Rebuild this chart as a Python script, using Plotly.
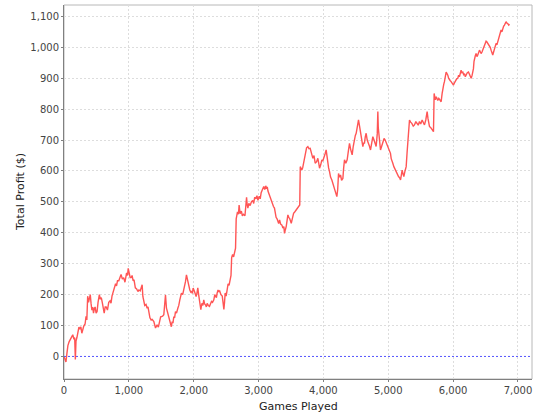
import plotly.graph_objects as go

games = [0, 15, 30, 45, 60, 80, 100, 120, 135, 150, 165, 175, 185, 200, 215, 230, 245, 260, 275, 290,
         305, 325, 340, 352, 365, 378, 392, 405, 418, 430, 443, 455, 468, 480, 495, 510, 525, 545, 560, 575,
         590, 605, 620, 635, 650, 670, 690, 710, 725, 740, 755, 770, 795, 810, 825, 845, 860, 880, 900, 920,
         940, 965, 980, 990, 1005, 1020, 1035, 1050, 1065, 1080, 1100, 1120, 1140, 1155, 1175, 1195, 1205, 1216, 1230, 1245,
         1265, 1282, 1295, 1308, 1325, 1344, 1360, 1385, 1400, 1411, 1425, 1436, 1455, 1472, 1490, 1503, 1520, 1539, 1552, 1565,
         1580, 1601, 1616, 1630, 1642, 1655, 1668, 1680, 1693, 1705, 1719, 1735, 1755, 1770, 1786, 1800, 1811, 1830, 1847, 1860,
         1873, 1888, 1900, 1914, 1930, 1940, 1955, 1966, 1980, 1991, 2012, 2025, 2037, 2050, 2063, 2076, 2089, 2100, 2110, 2120,
         2130, 2142, 2155, 2168, 2181, 2195, 2207, 2225, 2243, 2258, 2274, 2290, 2310, 2325, 2336, 2350, 2361, 2375, 2387, 2400,
         2420, 2440, 2455, 2465, 2475, 2485, 2500, 2515, 2530, 2545, 2560, 2575, 2585, 2600, 2615, 2630, 2645, 2655, 2665, 2675,
         2690, 2700, 2715, 2735, 2750, 2765, 2790, 2800, 2815, 2825, 2835, 2850, 2870, 2890, 2910, 2925, 2940, 2960, 2975, 2990,
         3010, 3025, 3040, 3060, 3080, 3095, 3110, 3120, 3135, 3145, 3160, 3180, 3195, 3215, 3230, 3245, 3258, 3270, 3285, 3300,
         3310, 3324, 3340, 3360, 3375, 3390, 3400, 3413, 3426, 3440, 3452, 3465, 3478, 3490, 3504, 3520, 3540, 3560, 3580, 3600,
         3622, 3635, 3643, 3655, 3667, 3680, 3693, 3710, 3724, 3740, 3760, 3778, 3796, 3815, 3837, 3855, 3873, 3895, 3914, 3928,
         3940, 3958, 3976, 3990, 4007, 4025, 4042, 4055, 4068, 4080, 4094, 4110, 4130, 4150, 4171, 4190, 4207, 4220, 4233, 4248,
         4264, 4280, 4300, 4312, 4325, 4345, 4366, 4385, 4402, 4420, 4443, 4460, 4479, 4492, 4505, 4520, 4541, 4557, 4572, 4590,
         4608, 4620, 4633, 4645, 4659, 4675, 4695, 4710, 4726, 4745, 4762, 4780, 4798, 4813, 4830, 4839, 4846, 4854, 4868, 4880,
         4898, 4916, 4935, 4952, 4970, 4993, 5015, 5034, 5045, 5055, 5070, 5086, 5105, 5122, 5140, 5158, 5175, 5189, 5200, 5214,
         5228, 5240, 5258, 5276, 5290, 5301, 5315, 5327, 5345, 5363, 5385, 5404, 5425, 5445, 5462, 5481, 5500, 5522, 5540, 5558,
         5578, 5590, 5599, 5612, 5635, 5655, 5676, 5690, 5697, 5707, 5725, 5740, 5763, 5779, 5797, 5815, 5830, 5841, 5855, 5866,
         5880, 5892, 5905, 5918, 5930, 5943, 5956, 5969, 5985, 6005, 6020, 6036, 6055, 6072, 6085, 6097, 6110, 6123, 6136, 6149,
         6162, 6175, 6188, 6200, 6218, 6236, 6250, 6262, 6278, 6293, 6305, 6313, 6322, 6329, 6341, 6354, 6367, 6380, 6393, 6406,
         6420, 6431, 6445, 6457, 6478, 6498, 6508, 6519, 6540, 6560, 6572, 6585, 6598, 6611, 6624, 6637, 6650, 6662, 6675, 6688,
         6700, 6714, 6727, 6739, 6752, 6765, 6778, 6791, 6804, 6816, 6830, 6842, 6857, 6870]

profit = [0, -8, -18, 10, 35, 48, 55, 62, 70, 58, 60, -10, 50, 62, 75, 95, 88, 96, 75, 90,
          98, 105, 130, 118, 195, 175, 190, 200, 170, 150, 160, 140, 155, 160, 140, 145, 175, 200, 185, 190,
          175, 155, 140, 160, 160, 150, 175, 180, 172, 195, 205, 212, 235, 228, 245, 245, 252, 265, 250, 255,
          240, 270, 262, 285, 270, 255, 255, 262, 245, 248, 222, 218, 210, 215, 212, 226, 232, 194, 175, 165,
          168, 156, 160, 140, 125, 118, 120, 113, 100, 92, 98, 102, 95, 113, 128, 129, 130, 135, 165, 199,
          156, 140, 124, 110, 102, 96, 113, 108, 129, 125, 145, 140, 156, 165, 183, 195, 205, 200, 215, 225,
          242, 264, 250, 242, 225, 215, 208, 210, 204, 221, 210, 200, 194, 205, 222, 200, 183, 165, 151, 165,
          172, 165, 183, 170, 167, 160, 172, 165, 162, 170, 178, 175, 183, 200, 194, 190, 205, 215, 210, 212,
          200, 195, 170, 152, 175, 205, 195, 215, 235, 230, 250, 262, 320, 330, 322, 340, 350, 445, 460, 468,
          460, 490, 462, 470, 455, 460, 455, 485, 515, 490, 480, 495, 488, 500, 505, 495, 515, 510, 520, 505,
          518, 510, 530, 540, 550, 540, 552, 545, 548, 535, 525, 515, 505, 495, 485, 480, 462, 450, 445, 435,
          430, 442, 428, 425, 415, 420, 398, 410, 420, 440, 458, 450, 447, 440, 431, 445, 463, 468, 474, 480,
          485, 490, 614, 608, 603, 610, 625, 650, 668, 675, 679, 672, 673, 660, 641, 650, 625, 630, 641, 625,
          609, 620, 636, 632, 641, 655, 668, 645, 625, 610, 598, 580, 571, 555, 538, 525, 517, 540, 592, 580,
          587, 570, 576, 610, 636, 625, 636, 665, 689, 670, 652, 680, 705, 715, 722, 740, 765, 745, 722, 700,
          679, 690, 690, 710, 722, 700, 690, 680, 668, 690, 711, 700, 690, 679, 720, 792, 740, 722, 690, 668,
          680, 695, 705, 700, 690, 679, 665, 657, 640, 636, 625, 614, 605, 598, 590, 582, 578, 571, 585, 603,
          590, 582, 600, 614, 660, 700, 740, 765, 758, 754, 745, 749, 760, 754, 748, 760, 752, 765, 758, 749,
          765, 780, 792, 770, 744, 740, 733, 730, 727, 851, 830, 840, 828, 835, 830, 824, 850, 872, 880, 889,
          905, 920, 915, 910, 900, 894, 892, 889, 885, 878, 885, 894, 898, 900, 910, 905, 915, 926, 918, 920,
          912, 915, 905, 910, 918, 920, 912, 905, 900, 910, 920, 931, 955, 969, 972, 980, 970, 975, 985, 991,
          985, 980, 985, 991, 1000, 1013, 1020, 1018, 1012, 1007, 1000, 991, 980, 975, 985, 996, 1005, 1013, 1008, 1018,
          1025, 1034, 1045, 1056, 1050, 1061, 1068, 1072, 1078, 1083, 1078, 1077, 1072, 1075]

x_ticks = [0, 1000, 2000, 3000, 4000, 5000, 6000, 7000]
x_labels = ["0", "1,000", "2,000", "3,000", "4,000", "5,000", "6,000", "7,000"]
y_ticks = [0, 100, 200, 300, 400, 500, 600, 700, 800, 900, 1000, 1100]
y_labels = ["0", "100", "200", "300", "400", "500", "600", "700", "800", "900", "1,000", "1,100"]
x_title = "Games Played"
y_title = "Total Profit ($)"

FONT = "DejaVu Sans"

fig = go.Figure()
fig.add_trace(go.Scatter(x=games, y=profit, mode="lines",
                         line=dict(color="#FF5555", width=1.4), showlegend=False,
                         hoverinfo="skip"))

fig.add_shape(type="line", xref="paper", yref="y", x0=0, x1=1, y0=0, y1=0,
              line=dict(color="#5555FF", width=1, dash="2px,2px"))
fig.add_shape(type="rect", xref="paper", yref="paper", x0=0, x1=1, y0=0, y1=1,
              line=dict(color="#B8B8B8", width=1), layer="below")

fig.add_annotation(text=x_title, xref="paper", yref="paper", x=0.5, y=0, yshift=-27,
                   showarrow=False, xanchor="center", yanchor="middle",
                   font=dict(family=FONT, size=11, color="#222222"))
fig.add_annotation(text=y_title, xref="paper", yref="paper", x=0, y=0.5, xshift=-44,
                   showarrow=False, xanchor="center", yanchor="middle", textangle=-90,
                   font=dict(family=FONT, size=11, color="#222222"))

fig.update_layout(
    width=540, height=420,
    margin=dict(l=64, r=8, t=5, b=41),
    paper_bgcolor="white", plot_bgcolor="white",
    font=dict(family=FONT, size=11, color="#333333"),
)
fig.update_xaxes(
    range=[0, 7216], tickvals=x_ticks, ticktext=x_labels, automargin=False,
    showgrid=True, gridcolor="#DDDDDD", griddash="2px,2px", gridwidth=1,
    zeroline=False, showline=True, linecolor="#808080", linewidth=1,
    ticks="outside", ticklen=2, tickcolor="#808080",
    tickfont=dict(family=FONT, size=10, color="#444444"),
)
fig.update_yaxes(
    range=[-73, 1137], tickvals=y_ticks, ticktext=y_labels, automargin=False,
    showgrid=True, gridcolor="#DDDDDD", griddash="2px,2px", gridwidth=1,
    zeroline=False, showline=True, linecolor="#808080", linewidth=1,
    ticks="outside", ticklen=2, tickcolor="#808080",
    tickfont=dict(family=FONT, size=10, color="#444444"),
)

fig.write_html("out.html", config={"displayModeBar": False},
               post_script="document.body.style.margin='0';document.body.style.padding='0';document.body.style.overflow='hidden';")
